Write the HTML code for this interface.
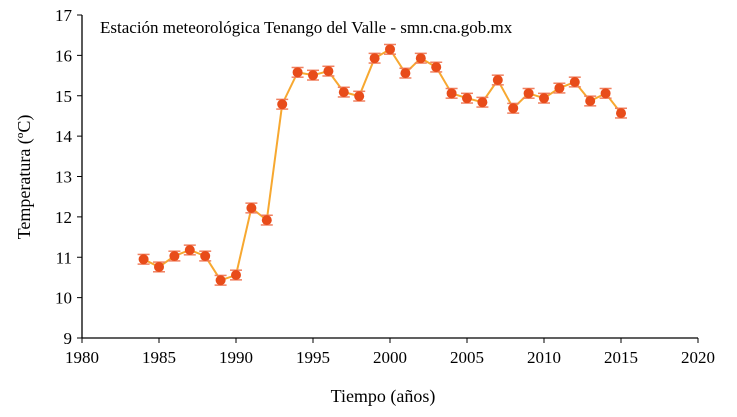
<!DOCTYPE html>
<html><head><meta charset="utf-8"><style>
body{margin:0;background:#fff}
svg text{font-family:"Liberation Serif",serif;fill:#000}
</style></head><body>
<svg id="c" width="737" height="412">
<text x="100" y="33" font-size="17">Estación meteorológica Tenango del Valle - smn.cna.gob.mx</text>
<text x="383" y="402" font-size="18" text-anchor="middle">Tiempo (años)</text>
<text transform="translate(30,177) rotate(-90)" font-size="18" text-anchor="middle">Temperatura  (ºC)</text>
<g id="g"></g>
</svg>
<script>
const years=[1984,1985,1986,1987,1988,1989,1990,1991,1992,1993,1994,1995,1996,1997,1998,1999,2000,2001,2002,2003,2004,2005,2006,2007,2008,2009,2010,2011,2012,2013,2014,2015];
const temps=[10.95,10.76,11.03,11.18,11.03,10.43,10.56,12.22,11.92,14.79,15.58,15.51,15.61,15.09,14.99,15.93,16.15,15.56,15.93,15.71,15.06,14.94,14.84,15.39,14.69,15.06,14.94,15.19,15.34,14.87,15.06,14.57];
const errs=[0.12,0.12,0.12,0.12,0.12,0.12,0.12,0.12,0.12,0.12,0.12,0.12,0.12,0.12,0.12,0.12,0.12,0.12,0.12,0.12,0.12,0.12,0.12,0.12,0.12,0.12,0.12,0.12,0.12,0.12,0.12,0.12];
const xTicks=[1980,1985,1990,1995,2000,2005,2010,2015,2020];
const yTicks=[9,10,11,12,13,14,15,16,17];
const L=82,R=698,T=15,B=338;
const X=v=>L+(v-1980)/40*(R-L);
const Y=v=>B-(v-9)/8*(B-T);
const g=document.getElementById('g');
const NS='http://www.w3.org/2000/svg';
function mk(t,a){const e=document.createElementNS(NS,t);for(const k in a)e.setAttribute(k,a[k]);g.appendChild(e);return e;}
let e=mk('line',{x1:L,y1:T,x2:L,y2:B,stroke:'#000','stroke-width':1.3});


e=mk('line',{x1:L,y1:B,x2:R,y2:B,stroke:'#000','stroke-width':1.3});


xTicks.forEach(v=>{mk('line',{x1:X(v),y1:B,x2:X(v),y2:B+5,stroke:'#000'});
 const t=mk('text',{x:X(v),y:B+25,'font-size':17,'text-anchor':'middle'});t.textContent=v;
 
 });
yTicks.forEach(v=>{mk('line',{x1:L-5,y1:Y(v),x2:L,y2:Y(v),stroke:'#000'});
 const t=mk('text',{x:L-10,y:Y(v)+6,'font-size':17,'text-anchor':'end'});t.textContent=v;
 
 });
e=mk('polyline',{points:years.map((y,i)=>X(y)+','+Y(temps[i])).join(' '),fill:'none',stroke:'#f7a830','stroke-width':2});


years.forEach((y,i)=>{const x=X(y),v=temps[i],d=errs[i];
 mk('line',{x1:x,y1:Y(v+d),x2:x,y2:Y(v-d),stroke:'#e05020'});
 mk('line',{x1:x-6,y1:Y(v+d),x2:x+6,y2:Y(v+d),stroke:'#f08060','stroke-width':1.5});
 mk('line',{x1:x-6,y1:Y(v-d),x2:x+6,y2:Y(v-d),stroke:'#f08060','stroke-width':1.5});
 const c=mk('circle',{cx:x,cy:Y(v),r:5,fill:'#e84c1a'});
 
 });
</script>
</body></html>
